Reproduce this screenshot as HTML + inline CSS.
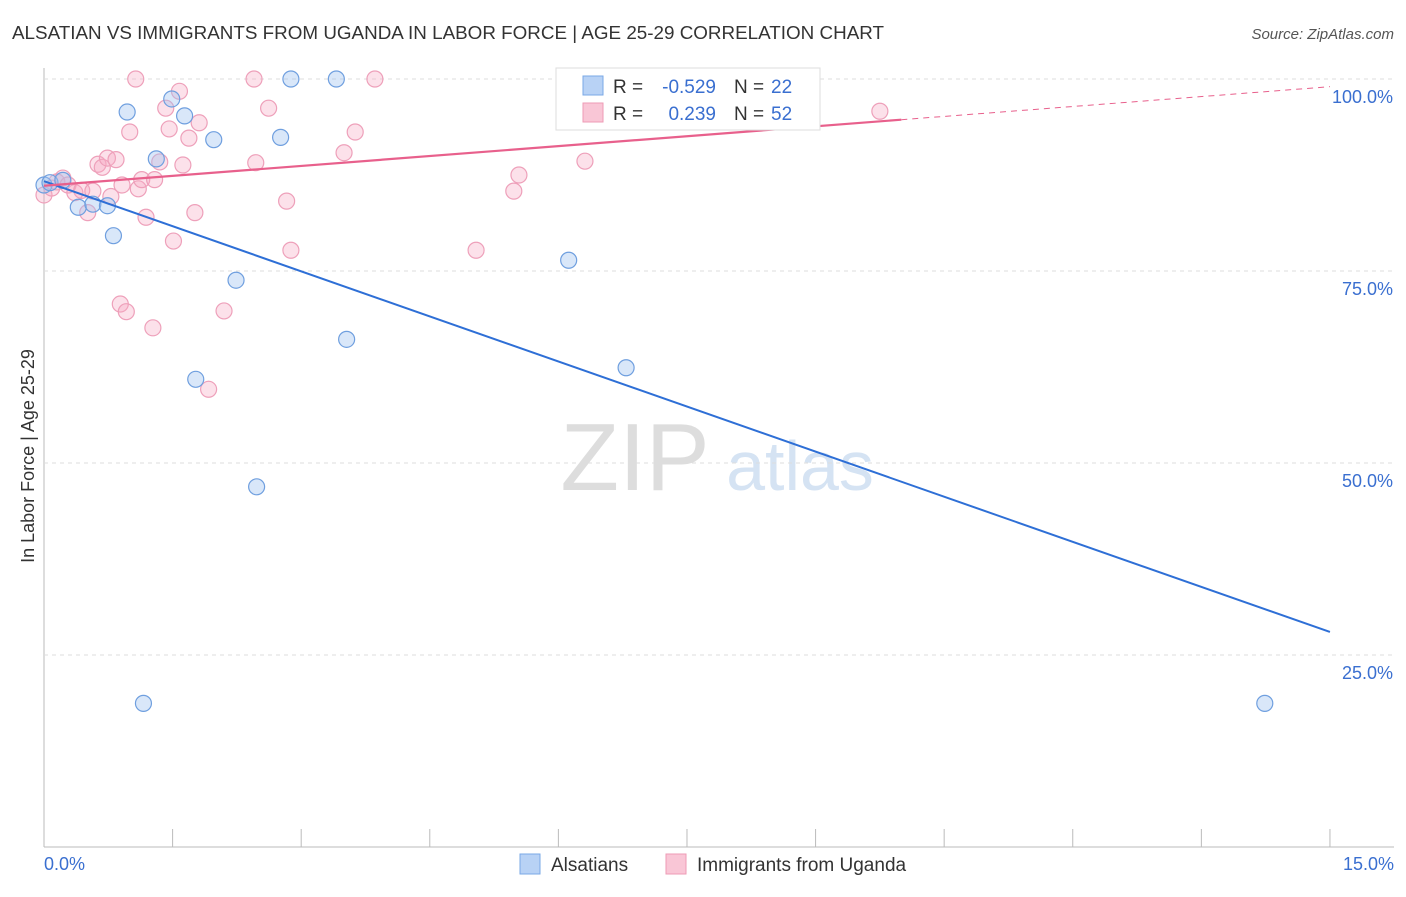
<!DOCTYPE html>
<html><head><meta charset="utf-8"><style>
body{margin:0;background:#fff;font-family:"Liberation Sans",sans-serif;}
svg text{font-family:"Liberation Sans",sans-serif;}
</style></head><body>
<svg id="c" width="1406" height="892" xmlns="http://www.w3.org/2000/svg">
<text x="12" y="39" font-size="18" fill="#333" textLength="872" lengthAdjust="spacingAndGlyphs">ALSATIAN VS IMMIGRANTS FROM UGANDA IN LABOR FORCE | AGE 25-29 CORRELATION CHART</text>
<text x="1394" y="39" font-size="15" fill="#555" font-style="italic" text-anchor="end">Source: ZipAtlas.com</text>
<text x="635" y="490" font-size="96" fill="#ddd" font-family="Liberation Serif" text-anchor="middle">ZIP</text>
<text x="800" y="490" font-size="70" fill="#d5e3f3" text-anchor="middle">atlas</text>
<g id="grid"></g><g id="pts"></g><g id="lines"></g>
<text x="34" y="456" font-size="18" fill="#333" text-anchor="middle" transform="rotate(-90 34 456)">In Labor Force | Age 25-29</text>
<g>
<rect x="556" y="68" width="264" height="62" fill="#fff" stroke="#ddd"/>
<rect x="583" y="76" width="20" height="19" fill="#b8d2f5" stroke="#7aa8e6"/>
<rect x="583" y="103" width="20" height="19" fill="#f9c6d6" stroke="#ee9bb5"/>
<text x="613" y="93" font-size="19" fill="#333">R =</text>
<text x="716" y="93" font-size="19" fill="#3a6fd0" text-anchor="end">-0.529</text>
<text x="734" y="93" font-size="19" fill="#333">N =</text>
<text x="771" y="93" font-size="19" fill="#3a6fd0">22</text>
<text x="613" y="120" font-size="19" fill="#333">R =</text>
<text x="716" y="120" font-size="19" fill="#3a6fd0" text-anchor="end">0.239</text>
<text x="734" y="120" font-size="19" fill="#333">N =</text>
<text x="771" y="120" font-size="19" fill="#3a6fd0">52</text>
</g>
<g>
<rect x="520" y="854" width="20" height="20" fill="#b8d2f5" stroke="#7aa8e6"/>
<text x="551" y="871" font-size="19" fill="#333">Alsatians</text>
<rect x="666" y="854" width="20" height="20" fill="#f9c6d6" stroke="#ee9bb5"/>
<text x="697" y="871" font-size="19" fill="#333">Immigrants from Uganda</text>
</g>
</svg>
<script>
const yTicks=[25,50,75,100];
const xTickLabels=["0.0%","15.0%"];
const blueX=[0,0.07,0.22,0.4,0.57,0.74,0.81,0.97,1.16,1.31,1.49,1.64,1.77,1.98,2.24,2.48,2.76,2.88,3.41,3.53,6.12,6.79,14.24];
const blueY=[86.2,86.5,86.8,83.3,83.7,83.5,79.6,95.7,18.7,89.6,97.4,95.2,60.9,92.1,73.8,46.9,92.4,100,100,66.1,76.4,62.4,18.7];
const pinkX=[0,0.09,0.15,0.22,0.28,0.36,0.44,0.51,0.57,0.63,0.68,0.74,0.78,0.84,0.89,0.91,0.96,1.0,1.07,1.1,1.14,1.19,1.27,1.29,1.35,1.42,1.46,1.51,1.58,1.62,1.69,1.76,1.81,2.1,1.92,2.45,2.47,2.62,2.83,2.88,3.5,3.63,3.86,5.04,5.48,5.54,6.31,9.75];
const pinkY=[84.9,85.8,86.6,87.1,86.2,85.2,85.5,82.6,85.4,88.9,88.5,89.7,84.7,89.5,70.7,86.2,69.7,93.1,100,85.7,86.9,82.0,67.6,86.9,89.2,96.2,93.5,78.9,98.4,88.8,92.3,82.6,94.3,69.8,59.6,100,89.1,96.2,84.1,77.7,90.4,93.1,100,77.7,85.4,87.5,89.3,95.8];
const blueLine=[86.7,28.0], pinkLine=[86.1,94.7], pinkEnd=10.0;
const X=v=>44+v*85.73, Y=v=>847-v*7.68;
const ns="http://www.w3.org/2000/svg";
function mk(t,a,p){const e=document.createElementNS(ns,t);for(const k in a)e.setAttribute(k,a[k]);p.appendChild(e);return e;}
const g=document.getElementById('grid');
let ax=mk('line',{x1:44,y1:68,x2:44,y2:847,stroke:'#bbb'},g);

let bx=mk('line',{x1:44,y1:847,x2:1394,y2:847,stroke:'#bbb'},g);

for(let i=1;i<=10;i++){const t=mk('line',{x1:X(i*1.5),x2:X(i*1.5),y1:829,y2:847,stroke:'#bbb'},g);
}
yTicks.forEach(v=>{const l=mk('line',{x1:44,x2:1394,y1:Y(v),y2:Y(v),stroke:'#ddd','stroke-dasharray':'4 4'},g);

const t=mk('text',{x:1393,y:Y(v)+24,'font-size':18,fill:'#3a6fd0','text-anchor':'end'},g);t.textContent=v.toFixed(1)+'%';
});
[[0,44,'start'],[15,1394,'end']].forEach((d,i)=>{const t=mk('text',{x:d[1],y:870,'font-size':18,fill:'#3a6fd0','text-anchor':d[2]},g);t.textContent=xTickLabels[i];
});
const p=document.getElementById('pts');
pinkX.forEach((x,i)=>{const c=mk('circle',{cx:X(x),cy:Y(pinkY[i]),r:8,fill:'rgba(246,170,196,0.35)',stroke:'#eea0ba','stroke-width':1.2},p);
});
blueX.forEach((x,i)=>{const c=mk('circle',{cx:X(x),cy:Y(blueY[i]),r:8,fill:'rgba(160,196,240,0.4)',stroke:'#6f9fdf','stroke-width':1.2},p);
});
const L=document.getElementById('lines');
let b=mk('line',{x1:X(0),y1:Y(blueLine[0]),x2:X(15),y2:Y(blueLine[1]),stroke:'#2e6fd6','stroke-width':2},L);

const py=x=>pinkLine[0]+(pinkLine[1]-pinkLine[0])*x/pinkEnd;
let pk=mk('line',{x1:X(0),y1:Y(py(0)),x2:X(pinkEnd),y2:Y(py(pinkEnd)),stroke:'#e8608c','stroke-width':2.2},L);

let pd=mk('line',{x1:X(pinkEnd),y1:Y(py(pinkEnd)),x2:X(15),y2:Y(py(15)),stroke:'#e8608c','stroke-width':1,'stroke-dasharray':'6 5'},L);

</script>
</body></html>
